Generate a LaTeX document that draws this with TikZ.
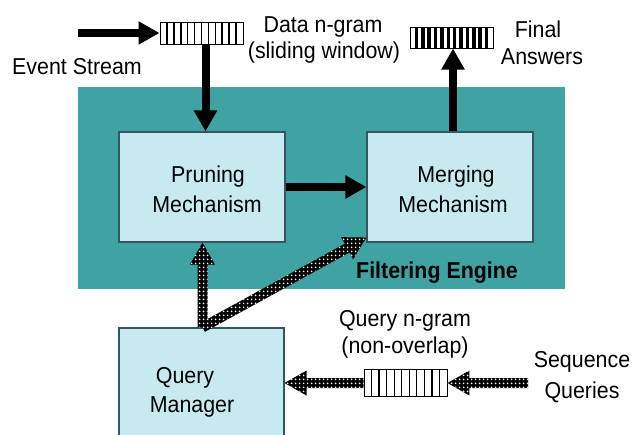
\documentclass[tikz,border=0pt]{standalone}
\usepackage{fontspec}
\setmainfont[FakeStretch=0.93]{Liberation Sans}
\usetikzlibrary{arrows.meta,calc,patterns.meta}
\definecolor{tealbg}{RGB}{64,163,163}
\definecolor{boxfill}{RGB}{199,234,241}
\definecolor{boxline}{RGB}{55,85,95}
\newcommand{\chkarrow}[2]{%
  \coordinate (ca-s) at (#1);
  \coordinate (ca-e) at (#2);
  \coordinate (ca-h) at ($(ca-e)!22pt!(ca-s)$);
  \path[chk] ($(ca-s)!5pt!90:(ca-e)$) -- ($(ca-h)!5pt!-90:(ca-s)$)
    -- ($(ca-h)!12.5pt!-90:(ca-s)$) -- (ca-e) -- ($(ca-h)!12.5pt!90:(ca-s)$)
    -- ($(ca-h)!5pt!90:(ca-s)$) -- ($(ca-s)!5pt!-90:(ca-e)$) -- cycle;}
\begin{document}
\begin{tikzpicture}[x=1pt,y=-1pt,
  lbl/.style={font=\fontsize{23}{29}\selectfont, inner sep=0pt, anchor=base},
  engine/.style={fill=tealbg, minimum width=487pt, minimum height=202pt, inner sep=0pt},
  mbox/.style={fill=boxfill, draw=boxline, line width=1.1pt, minimum width=166pt, minimum height=110pt, inner sep=0pt},
  buf/.style={draw=black, fill=white, line width=1pt, minimum width=83pt, minimum height=22pt, inner sep=0pt},
  stripes/.style n args={2}{path picture={
    \foreach \i in {1,...,#1}{
      \draw[line width=#2] ($(path picture bounding box.south west)!\i/(#1+1)!(path picture bounding box.south east)$)
        -- ($(path picture bounding box.north west)!\i/(#1+1)!(path picture bounding box.north east)$);}}},
  solidarr/.style={line width=8pt, -{Triangle[width=22pt,length=21pt]}},
  chk/.style={preaction={fill=black}, pattern={Dots[distance=4pt,radius=1.15pt]}, pattern color=white}
]
\useasboundingbox (0,0) rectangle (634,434);
\clip (0,0) rectangle (634,434);
\fill[white] (0,0) rectangle (634,434);

% filtering engine background
\node[engine] (eng) at (321.5,188) {};
\node[lbl, font=\fontsize{23}{29}\selectfont\bfseries] (englbl) at (437,278) {Filtering Engine};

% boxes
\node[mbox] (prune) at (202,187) {};
\node[mbox] (merge) at (450,187) {};
\node[mbox, minimum width=165pt, minimum height=128pt] (qm) at (201.5,392) {};

\node[lbl] (pr1) at (208,182) {Pruning};
\node[lbl] (pr2) at (207,212) {Mechanism};
\node[lbl] (mg1) at (456,182) {Merging};
\node[lbl] (mg2) at (453,212) {Mechanism};
\node[lbl] (qm1) at (185,383) {Query};
\node[lbl] (qm2) at (192,412) {Manager};

% buffers
\node[buf, stripes={11}{1.6pt}] (dbuf) at (201.5,33) {};
\node[buf, stripes={12}{3.6pt}, minimum height=21pt] (fbuf) at (451.5,37.5) {};
\node[buf, stripes={10}{1.2pt}, minimum height=27pt, line width=0.9pt] (qbuf) at (405.5,383) {};

% texts
\node[lbl] (es) at (77,74) {Event Stream};
\node[lbl] (dn1) at (323,32) {Data n-gram};
\node[lbl] (dn2) at (324,58) {(sliding window)};
\node[lbl] (fa1) at (538,37) {Final};
\node[lbl] (fa2) at (542,64) {Answers};
\node[lbl] (qn1) at (405,326) {Query n-gram};
\node[lbl] (qn2) at (405,353) {(non-overlap)};
\node[lbl] (sq1) at (582,367) {Sequence};
\node[lbl] (sq2) at (582,398) {Queries};

% solid arrows
\coordinate (esStart) at (78,33);
\draw[solidarr] (esStart) -- (dbuf.west);
\draw[solidarr] ([xshift=4pt]dbuf.south) -- ([xshift=4pt]dbuf.south |- prune.north);
\draw[solidarr] (prune.east) -- (merge.west);
\draw[solidarr] ([xshift=3pt]merge.north) -- ([xshift=3pt]merge.north |- fbuf.south);

% checkered arrows
\chkarrow{[xshift=1pt]qm.north}{[xshift=1pt]qm.north |- prune.south}
\chkarrow{[xshift=1pt]qm.north}{[yshift=5pt]merge.south west}
\chkarrow{qbuf.west}{qbuf.west -| qm.east}
\coordinate (sqStart) at (528,383);
\chkarrow{sqStart}{qbuf.east}
\end{tikzpicture}
\end{document}
